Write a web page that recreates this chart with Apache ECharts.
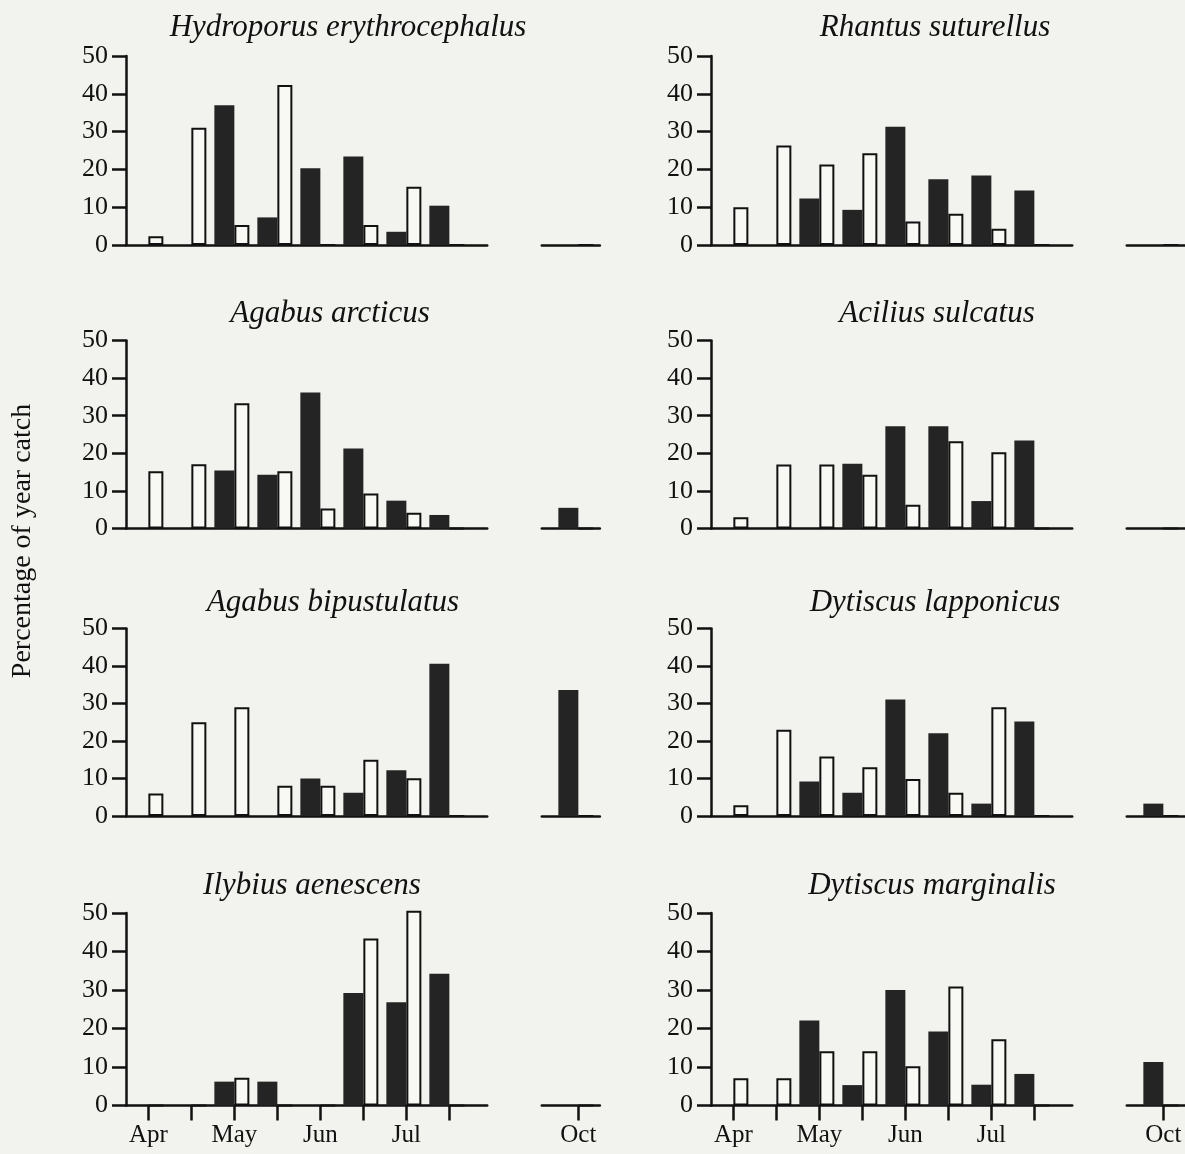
<!DOCTYPE html>
<html>
<head>
<meta charset="utf-8">
<script src="https://cdn.jsdelivr.net/npm/echarts@6/dist/echarts.min.js"></script>
<style>
html,body{margin:0;padding:0;background:#f2f2ee;}
#chart{width:1185px;height:1154px;}
</style>
</head>
<body>
<div id="chart"></div>
<script>
// ---------- data ----------
const speciesNames = [
  'Hydroporus erythrocephalus', 'Rhantus suturellus',
  'Agabus arcticus', 'Acilius sulcatus',
  'Agabus bipustulatus', 'Dytiscus lapponicus',
  'Ilybius aenescens', 'Dytiscus marginalis'
];
const yAxisTitle = 'Percentage of year catch';
const monthLabels = ['Apr', 'May', 'Jun', 'Jul'];
const monthTickPositions = [0, 2, 4, 6];
const samplePositions = [0, 1, 2, 3, 4, 5, 6, 7];   // half-month sampling dates
const octLabel = 'Oct';
const octPosition = 10;

// filled (black) and open (white) bars at each sampling date
const hydroporusBlack = [0, 0, 37, 7.3, 20.3, 23.4, 3.5, 10.4];
const hydroporusWhite = [2.3, 31, 5.3, 42.3, 0, 5.3, 15.4, 0];
const rhantusBlack    = [0, 0, 12.3, 9.3, 31.3, 17.4, 18.4, 14.4];
const rhantusWhite    = [10, 26.3, 21.3, 24.3, 6.2, 8.3, 4.3, 0];
const arcticusBlack   = [0, 0, 15.4, 14.3, 36.2, 21.3, 7.4, 3.6];
const arcticusWhite   = [15.2, 17.1, 33.3, 15.2, 5.3, 9.3, 4.2, 0];
const aciliusBlack    = [0, 0, 0, 17.2, 27.2, 27.2, 7.3, 23.4];
const aciliusWhite    = [3, 17, 17, 14.3, 6.3, 23.2, 20.3, 0];
const bipustBlack     = [0, 0, 0, 0, 10, 6.2, 12.2, 40.6];
const bipustWhite     = [6, 25, 29, 8.1, 8.1, 15, 10.1, 0];
const lapponicusBlack = [0, 0, 9.2, 6.2, 31.1, 22.1, 3.3, 25.2];
const lapponicusWhite = [2.9, 23, 15.9, 13, 9.9, 6.2, 29, 0];
const ilybiusBlack    = [0, 0, 6.2, 6.2, 0, 29.2, 26.8, 34.2];
const ilybiusWhite    = [0, 0, 7.2, 0, 0, 43.4, 50.6, 0];
const marginalisBlack = [0, 0, 22.1, 5.3, 30, 19.2, 5.4, 8.2];
const marginalisWhite = [7.1, 7.1, 14.1, 14.1, 10.2, 30.9, 17.2, 0];

// October catch, in panel order
const octBlack = [0, 0, 5.5, 0, 33.6, 3.3, 0, 11.3];
const octWhite = [0, 0, 0, 0, 0, 0, 0, 0];

// ---------- layout / style ----------
const INK = '#111111';
const DARK = '#242424';
const OPEN = '#f8f8f4';
const FONT = "'Liberation Serif', 'Times New Roman', serif";

const blackSets = [hydroporusBlack, rhantusBlack, arcticusBlack, aciliusBlack,
                   bipustBlack, lapponicusBlack, ilybiusBlack, marginalisBlack];
const whiteSets = [hydroporusWhite, rhantusWhite, arcticusWhite, aciliusWhite,
                   bipustWhite, lapponicusWhite, ilybiusWhite, marginalisWhite];

const colLeft = [126, 711];
const rowTop = [56, 340.5, 628.5, 913];
const rowHeight = [189, 188, 187.5, 192.5];
const unit = 43;
const xMin = -0.52, xMax = 7.88;
const octMin = 9.15, octMax = 10.5;
const titleX = [348, 935, 330, 937, 333, 935, 312, 932];
const titleMid = [28, 28, 314, 314, 603, 603, 886, 886];

const grids = [], xAxes = [], yAxes = [], series = [], graphics = [];

function addBars(axisIdx, blackData, whiteData) {
  series.push({
    type: 'bar', xAxisIndex: axisIdx, yAxisIndex: axisIdx,
    barWidth: 20, barGap: '0%', clip: false, silent: true,
    itemStyle: { color: DARK },
    data: blackData
  });
  series.push({
    type: 'bar', xAxisIndex: axisIdx, yAxisIndex: axisIdx,
    barWidth: 15, barGap: '0%', clip: false, silent: true,
    itemStyle: { color: OPEN, borderColor: INK, borderWidth: 2 },
    data: whiteData
  });
  // empty spacer column so the open bar starts exactly at the date tick
  series.push({
    type: 'bar', xAxisIndex: axisIdx, yAxisIndex: axisIdx,
    barWidth: 5, barGap: '0%', silent: true, data: []
  });
}

speciesNames.forEach(function (name, i) {
  const col = i % 2, row = Math.floor(i / 2);
  const bottom = row === 3;
  const left = colLeft[col];
  const top = rowTop[row];
  const h = rowHeight[row];

  // main grid
  const gMain = grids.length;
  grids.push({ left: left, top: top, width: (xMax - xMin) * unit, height: h,
               containLabel: false, outerBoundsMode: 'none' });
  xAxes.push({
    type: 'value', gridIndex: gMain, min: xMin, max: xMax,
    splitLine: { show: false },
    axisLine: { show: true, onZero: false, lineStyle: { color: INK, width: 2.5 } },
    axisTick: { show: bottom, inside: false, length: 15, customValues: samplePositions,
                lineStyle: { color: INK, width: 2.5 } },
    axisLabel: { show: bottom, customValues: monthTickPositions, margin: 17,
                 fontFamily: FONT, fontSize: 25, color: INK,
                 formatter: function (v) { return monthLabels[monthTickPositions.indexOf(v)]; } }
  });
  yAxes.push({
    type: 'value', gridIndex: gMain, min: 0, max: 50, interval: 10,
    splitLine: { show: false },
    axisLine: { show: true, onZero: false, lineStyle: { color: INK, width: 2.5 } },
    axisTick: { show: true, inside: false, length: 14, lineStyle: { color: INK, width: 2.5 } },
    axisLabel: { margin: 18, fontFamily: FONT, fontSize: 26, color: INK }
  });
  addBars(gMain,
    samplePositions.map(function (x, k) { return [x, blackSets[i][k]]; }),
    samplePositions.map(function (x, k) { return [x, whiteSets[i][k]]; }));

  // October grid
  const gOct = grids.length;
  grids.push({ left: left + (octMin - xMin) * unit, top: top, width: (octMax - octMin) * unit,
               height: h, containLabel: false, outerBoundsMode: 'none' });
  xAxes.push({
    type: 'value', gridIndex: gOct, min: octMin, max: octMax,
    splitLine: { show: false },
    axisLine: { show: true, onZero: false, lineStyle: { color: INK, width: 2.5 } },
    axisTick: { show: bottom, inside: false, length: 15, customValues: [octPosition],
                lineStyle: { color: INK, width: 2.5 } },
    axisLabel: { show: bottom, customValues: [octPosition], margin: 17,
                 fontFamily: FONT, fontSize: 25, color: INK,
                 formatter: function () { return octLabel; } }
  });
  yAxes.push({ type: 'value', gridIndex: gOct, min: 0, max: 50, show: false,
               splitLine: { show: false } });
  addBars(gOct, [[octPosition, octBlack[i]]], [[octPosition, octWhite[i]]]);

  graphics.push({
    type: 'text', x: titleX[i], y: titleMid[i], silent: true,
    style: { text: name, fill: INK, font: 'italic 31px ' + FONT,
             textAlign: 'center', textVerticalAlign: 'middle' }
  });
});

graphics.push({
  type: 'text', x: 23, y: 541, rotation: Math.PI / 2, silent: true,
  style: { text: yAxisTitle, fill: INK, font: '28px ' + FONT,
           textAlign: 'center', textVerticalAlign: 'middle' }
});

const chart = echarts.init(document.getElementById('chart'), null, { renderer: 'canvas' });
chart.setOption({
  backgroundColor: '#f2f2ee',
  animation: false,
  grid: grids,
  xAxis: xAxes,
  yAxis: yAxes,
  series: series,
  graphic: graphics
});
</script>
</body>
</html>
